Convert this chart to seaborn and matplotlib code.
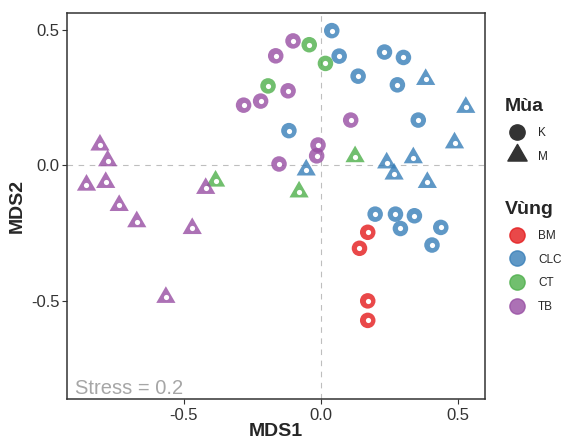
import numpy as np
import pandas as pd
import seaborn as sns
import matplotlib.pyplot as plt
from matplotlib.path import Path
from matplotlib.lines import Line2D

## NMDS scores
mds1_k_clc = [0.039, 0.066, 0.231, 0.300, 0.135, 0.278, 0.354, -0.117, 0.197, 0.271, 0.340, 0.289, 0.436, 0.404]
mds2_k_clc = [0.496, 0.402, 0.417, 0.397, 0.328, 0.296, 0.166, 0.127, -0.181, -0.181, -0.187, -0.234, -0.230, -0.295]
mds1_k_ct = [-0.193, -0.043, 0.016]
mds2_k_ct = [0.292, 0.444, 0.375]
mds1_k_tb = [-0.282, -0.220, -0.165, -0.102, -0.120, -0.153, 0.108, -0.011, -0.016]
mds2_k_tb = [0.221, 0.236, 0.403, 0.458, 0.274, 0.004, 0.166, 0.074, 0.034]
mds1_k_bm = [0.170, 0.140, 0.170, 0.170]
mds2_k_bm = [-0.248, -0.307, -0.501, -0.573]
mds1_m_clc = [0.381, 0.527, 0.486, 0.239, 0.336, -0.054, 0.266, 0.387]
mds2_m_clc = [0.316, 0.213, 0.082, 0.008, 0.027, -0.018, -0.033, -0.064]
mds1_m_ct = [-0.384, 0.124, -0.080]
mds2_m_ct = [-0.059, 0.031, -0.099]
mds1_m_tb = [-0.805, -0.777, -0.854, -0.784, -0.735, -0.671, -0.469, -0.565, -0.420]
mds2_m_tb = [0.074, 0.016, -0.074, -0.064, -0.149, -0.209, -0.234, -0.488, -0.086]

regions = ["BM", "CLC", "CT", "TB"]
seasons = ["K", "M"]
xticks = [-0.5, 0.0, 0.5]
yticks = [-0.5, 0.0, 0.5]

groups = [
    ("K", "CLC", mds1_k_clc, mds2_k_clc), ("K", "CT", mds1_k_ct, mds2_k_ct),
    ("K", "TB", mds1_k_tb, mds2_k_tb), ("K", "BM", mds1_k_bm, mds2_k_bm),
    ("M", "CLC", mds1_m_clc, mds2_m_clc), ("M", "CT", mds1_m_ct, mds2_m_ct),
    ("M", "TB", mds1_m_tb, mds2_m_tb),
]
rows = []
for mua, vung, xs, ys in groups:
    for a, b in zip(xs, ys):
        rows.append({"MDS1": a, "MDS2": b, "Mua": mua, "Vung": vung})
df = pd.DataFrame(rows)

sns.set_style("white")
plt.rcParams['font.family'] = ['Liberation Sans', 'DejaVu Sans']

pal = dict(zip(regions, ["#E41A1C", "#377EB8", "#4DAF4A", "#984EA3"]))
# triangle centred on its centroid, like R's pch 17
tri = Path([(0, 1), (-0.866, -0.5), (0.866, -0.5), (0, 1)],
           [Path.MOVETO, Path.LINETO, Path.LINETO, Path.CLOSEPOLY])

fig = plt.figure(figsize=(5.65, 4.43), dpi=100)
ax = fig.add_axes([67 / 565, 44 / 443, 418 / 565, 386 / 443])

ax.axhline(0, color="#BEBEBE", lw=0.8, ls=(0, (5, 5)), zorder=1)
ax.axvline(0, color="#BEBEBE", lw=0.8, ls=(0, (5, 5)), zorder=1)

sns.scatterplot(data=df[df.Mua == "K"], x="MDS1", y="MDS2", hue="Vung", palette=pal,
                marker="o", s=125, alpha=0.8, linewidth=0, legend=False, ax=ax, zorder=2)
sns.scatterplot(data=df[df.Mua == "M"], x="MDS1", y="MDS2", hue="Vung", palette=pal,
                marker=tri, s=256, alpha=0.8, linewidth=0, legend=False, ax=ax, zorder=2)
## white centre dots
sns.scatterplot(data=df, x="MDS1", y="MDS2", color="white", s=14, linewidth=0,
                legend=False, ax=ax, zorder=3)

ax.set_xlim(-0.925, 0.597)
ax.set_ylim(-0.863, 0.561)
ax.set_xticks(xticks)
ax.set_yticks(yticks)
ax.set_xticklabels([f"{t:.1f}" for t in xticks])
ax.set_yticklabels([f"{t:.1f}" for t in yticks])
ax.tick_params(direction="out", length=3.5, width=0.8, color="#333333",
               labelsize=12, labelcolor="#333333", bottom=True, left=True, pad=2)
ax.tick_params(axis="x", pad=3)
for sp in ax.spines.values():
    sp.set_color("#333333")
    sp.set_linewidth(1.1)
ax.set_xlabel("MDS1", fontsize=14, fontweight="bold", labelpad=0)
ax.set_ylabel("MDS2", fontsize=14, fontweight="bold", labelpad=4)

ax.text(0.019, 0.013, "Stress = 0.2", transform=ax.transAxes, color="#A6A6A6",
        fontsize=14.5, va="baseline", ha="left")

## legends
h_mua = [Line2D([0], [0], marker="o", color="#333333", ms=11, ls=""),
         Line2D([0], [0], marker=tri, color="#333333", ms=16, ls="")]
leg1 = fig.legend(h_mua, seasons, title="Mùa", loc="upper left",
                  bbox_to_anchor=(505 / 565, 1 - 98 / 443), frameon=False,
                  fontsize=8.5, title_fontproperties={"size": 14, "weight": "bold"},
                  alignment="left", borderpad=0, borderaxespad=0,
                  labelspacing=1.0, handletextpad=0.8)
h_vung = [Line2D([0], [0], marker="o", color=pal[r], alpha=0.8, ms=11, ls="") for r in regions]
leg2 = fig.legend(h_vung, regions, title="Vùng", loc="upper left",
                  bbox_to_anchor=(505 / 565, 1 - 201 / 443), frameon=False,
                  fontsize=8.5, title_fontproperties={"size": 14, "weight": "bold"},
                  alignment="left", borderpad=0, borderaxespad=0,
                  labelspacing=1.0, handletextpad=0.8)

fig.savefig("out.png", dpi=100)
